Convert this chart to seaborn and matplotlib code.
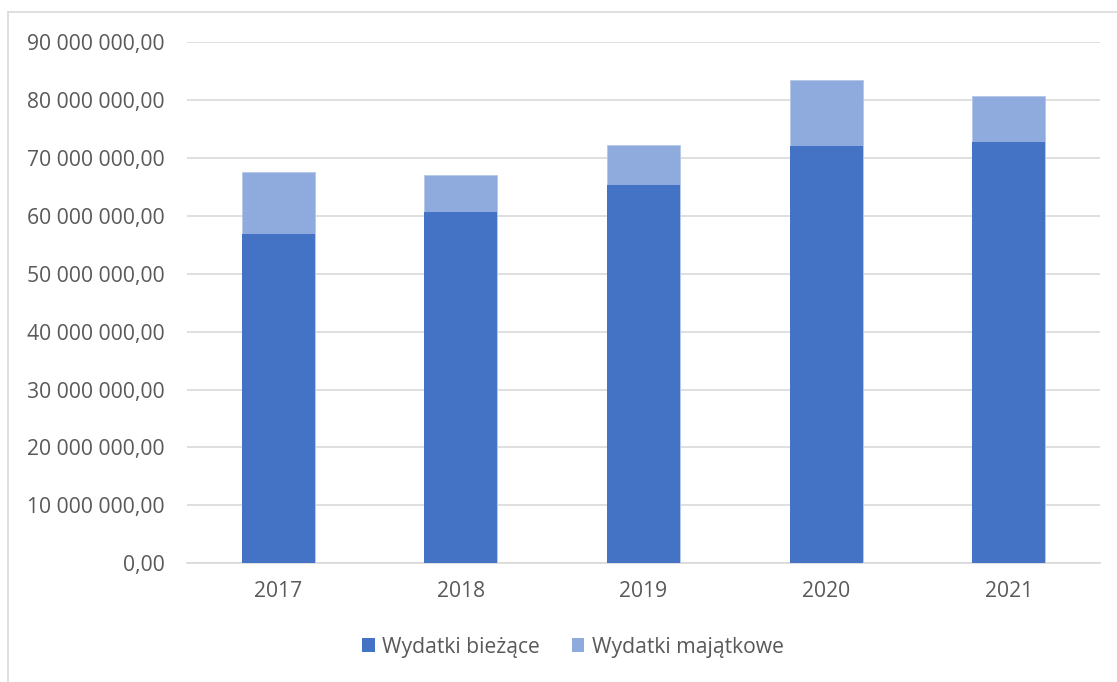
import matplotlib
matplotlib.use("Agg")
import matplotlib.pyplot as plt
from matplotlib.ticker import FuncFormatter, MultipleLocator
from matplotlib.lines import Line2D
from matplotlib.patches import Patch
import seaborn as sns
import pandas as pd

years = ["2017", "2018", "2019", "2020", "2021"]
wydatki_biezace = [56.8e6, 60.7e6, 65.3e6, 72.0e6, 72.7e6]
wydatki_majatkowe = [10.7e6, 6.3e6, 6.9e6, 11.4e6, 8.0e6]
series_names = ["Wydatki bieżące", "Wydatki majątkowe"]
colors = ["#4472C4", "#8FAADC"]

sns.set_theme(style="white")
plt.rcParams['font.family'] = ['Open Sans', 'DejaVu Sans']

W, H = 1117, 682
fig = plt.figure(figsize=(W / 100, H / 100), dpi=100)
ax = fig.add_axes([187 / W, (H - 563.3) / H, (1100 - 187) / W, (563.3 - 42) / H])

totals = [a + b for a, b in zip(wydatki_biezace, wydatki_majatkowe)]
df = pd.DataFrame({"year": years, "total": totals, "biezace": wydatki_biezace})

sns.barplot(data=df, x="year", y="total", color=colors[1], saturation=1,
            width=0.4, ax=ax, edgecolor="#B4C7E7", linewidth=0.6, zorder=3)
sns.barplot(data=df, x="year", y="biezace", color=colors[0], saturation=1,
            width=0.4, ax=ax, edgecolor="#4472C4", linewidth=0.0, zorder=4)

ax.set_ylim(0, 90e6)
ax.set_xlim(-0.5, 4.5)
ax.yaxis.set_major_locator(MultipleLocator(10e6))

def fmt(v, pos):
    s = f"{v:,.2f}"
    s = s.replace(",", " ").replace(".", ",")
    return s

ax.yaxis.set_major_formatter(FuncFormatter(fmt))
ax.grid(axis="y", color="#D9D9D9", linewidth=1.2, zorder=0)
ax.set_axisbelow(True)
for s in ["top", "right", "left"]:
    ax.spines[s].set_visible(False)
ax.spines["bottom"].set_color("#D9D9D9")
ax.spines["bottom"].set_linewidth(1.2)
ax.set_xlabel("")
ax.set_ylabel("")
ax.tick_params(axis="both", length=0, labelsize=15.2, colors="#595959")
ax.tick_params(axis="y", pad=16)
ax.tick_params(axis="x", pad=13)

handles = [Patch(facecolor=colors[0], edgecolor="none"),
           Patch(facecolor=colors[1], edgecolor="none")]
leg = fig.legend(handles, series_names, loc="center", bbox_to_anchor=(573 / W, (H - 647) / H),
                 ncol=2, frameon=False, fontsize=15.2, handlelength=0.6, handleheight=0.6,
                 handletextpad=0.35, columnspacing=1.5)
for t in leg.get_texts():
    t.set_color("#595959")

fig.add_artist(Line2D([8 / W, 1], [(H - 12) / H, (H - 12) / H], color="#D9D9D9", linewidth=1.2,
                      transform=fig.transFigure))
fig.add_artist(Line2D([8 / W, 8 / W], [0, (H - 12) / H], color="#D9D9D9", linewidth=1.2,
                      transform=fig.transFigure))

fig.savefig("out.png", dpi=100)
